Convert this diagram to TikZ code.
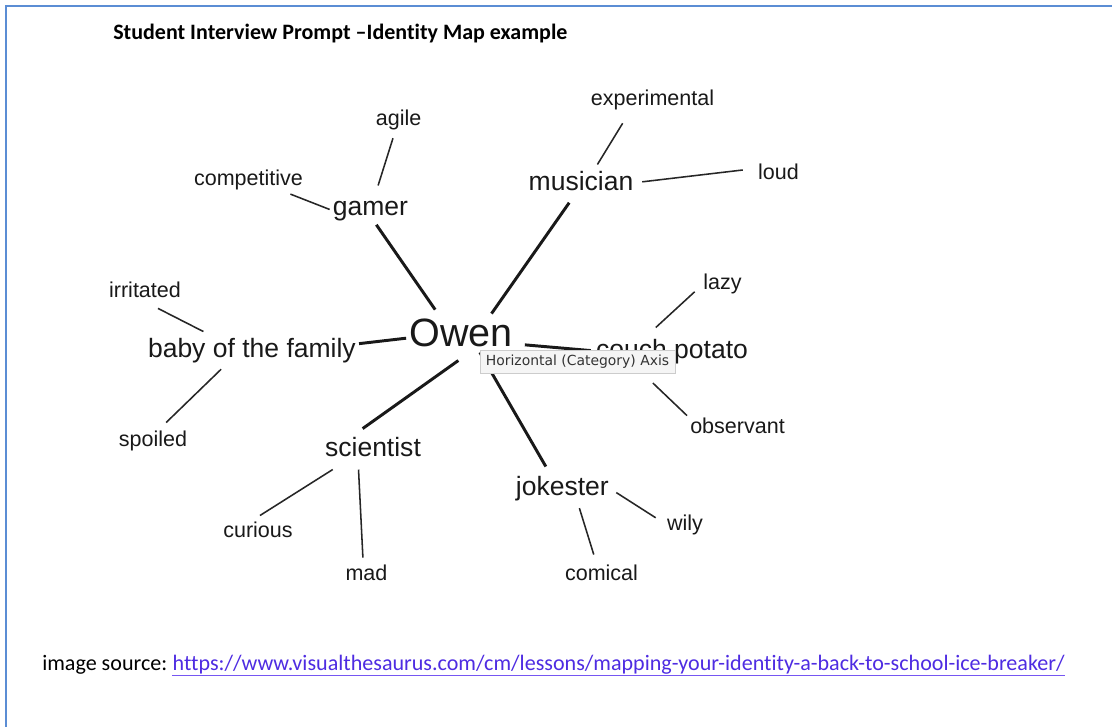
\documentclass[tikz,border=0pt]{standalone}
\usepackage{fontspec}
\setmainfont{Liberation Sans}
\newfontfamily\carlito[Ligatures=NoCommon]{Carlito}
\newfontfamily\dejavu{DejaVu Sans}
\usetikzlibrary{positioning, shadows}

\definecolor{framecol}{RGB}{91,141,212}
\definecolor{linkcol}{RGB}{78,44,226}
\definecolor{linkrule}{RGB}{118,86,242}
\definecolor{tipfill}{RGB}{245,245,245}
\definecolor{tipdraw}{RGB}{204,204,204}

\begin{document}
\begin{tikzpicture}[x=0.025cm, y=-0.025cm,
  word/.style={anchor=base, inner sep=0.075cm, text=black!90},
  hub/.style={word, font=\fontsize{28.1}{30}\selectfont},
  topic/.style={word, font=\fontsize{18.85}{20}\selectfont},
  trait/.style={word, font=\fontsize{15.3}{16}\selectfont},
  spoke/.style={black!90, line width=2.1pt},
  twig/.style={black!85, line width=1.1pt},
  page/.style={font=\carlito\fontsize{15.7}{17}\selectfont, inner sep=0pt, anchor=base west}]

\useasboundingbox (0,0) rectangle (1112,727);
\fill [white] (0,0) rectangle (1112,727);
\draw [framecol, line width=1.1pt] (1112,6) -- (6,6) -- (6,727);

\node (title) [page, font=\carlito\bfseries\fontsize{15.65}{17}\selectfont] at (113,40) {Student Interview Prompt –Identity Map example};

% centre and first ring
\node (owen)      [hub]   at (461,347)   {Owen};
\node (gamer)     [topic] at (370.5,216) {gamer};
\node (musician)  [topic] at (581,191)   {musician};
\node (baby)      [topic] at (251.9,358) {baby of the family};
\node (couch)     [topic] at (672,359)   {couch potato};
\node (scientist) [topic] at (373,456)   {scientist};
\node (jokester)  [topic] at (562.4,495) {jokester};

% outer ring
\node (agile)        [trait] at (398.7,126) {agile};
\node (competitive)  [trait] at (248.5,186) {competitive};
\node (experimental) [trait] at (652.5,106) {experimental};
\node (loud)         [trait] at (778.5,180) {loud};
\node (irritated)    [trait] at (145,298)   {irritated};
\node (spoiled)      [trait] at (153,447)   {spoiled};
\node (lazy)         [trait] at (722.5,290) {lazy};
\node (observant)    [trait] at (737.5,434) {observant};
\node (curious)      [trait] at (258,537)   {curious};
\node (mad)          [trait] at (366.5,580) {mad};
\node (comical)      [trait] at (601.5,580) {comical};
\node (wily)         [trait] at (685,530)   {wily};

\foreach \a/\p/\s/\b/\q/\t in {owen/141/7.9/gamer/-66/0, owen/31/3.1/musician/-115/10,
    owen/185/0/baby/4/0, owen/-11/9/couch/179/2, owen/-57/17/scientist/143/8.5,
    owen/-44/2/jokester/130/6.9}
  \draw [spoke, shorten <=\s*0.025cm, shorten >=\t*0.025cm] (\a.\p) -- (\b.\q);

\foreach \a/\p/\s/\b/\q/\t in {gamer/75/13.6/agile/-108/4.7, gamer/177/0/competitive/-18/1,
    musician/43/4.7/experimental/-151/11.2, musician/-1/5.7/loud/171/12.2,
    baby/159/8.7/irritated/-93/15.2, baby/-151/3.5/spoiled/61/8.1,
    scientist/-152/18.7/curious/101/4.9, scientist/-139/10/mad/107/3.6,
    couch/149/13.3/lazy/-174/7.4, couch/-156/22.1/observant/168/0,
    jokester/-2/5/wily/176/9.6, jokester/-45/4.6/comical/117/6.9}
  \draw [twig, shorten <=\s*0.025cm, shorten >=\t*0.025cm] (\a.\p) -- (\b.\q);

\node (tip) [draw=tipdraw, fill=tipfill, line width=0.5pt,
  drop shadow={opacity=0.2, shadow xshift=0.6pt, shadow yshift=-1pt},
  minimum width=4.875cm, minimum height=0.575cm, inner sep=0pt, text=black!80,
  font=\dejavu\fontsize{9.9}{11}\selectfont] at (577.5,361.5) {Horizontal (Category) Axis};

\node (source) [page] at (42,670) {image source:};
\node (link) [page, base right=3.5pt of source, text=linkcol]
  {https://www.visualthesaurus.com/cm/lessons/mapping-your-identity-a-back-to-school-ice-breaker/};
\draw [linkrule, line width=1.2pt] ([yshift=-1pt]link.south west) -- ([yshift=-1pt]link.south east);

\end{tikzpicture}
\end{document}
